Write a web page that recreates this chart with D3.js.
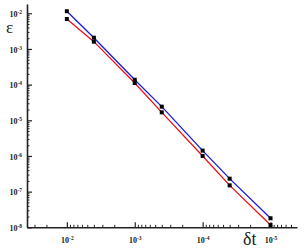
<!DOCTYPE html>
<html><head><meta charset="utf-8">
<script src="https://cdn.jsdelivr.net/npm/d3@7"></script>
<style>
html,body{margin:0;padding:0;background:#fff;}
svg{display:block;}
.axis path,.axis line{stroke:#222;}
.axis text{font-family:"Liberation Serif","Times New Roman",serif;font-weight:bold;fill:#222;}
</style></head><body>
<svg id="c" width="305" height="251"></svg>
<script>
const dt = [1e-2, 4e-3, 1e-3, 4e-4, 1e-4, 4e-5, 1e-5];
const errBlue = [1.14e-2, 2.07e-3, 1.37e-4, 2.41e-5, 1.41e-6, 2.31e-7, 1.79e-8];
const errRed  = [6.9e-3, 1.6e-3, 1.11e-4, 1.67e-5, 1.0e-6, 1.5e-7, 1.16e-8];
const xMajor = [1e-2, 1e-3, 1e-4, 1e-5];
const yMajor = [1e-2, 1e-3, 1e-4, 1e-5, 1e-6, 1e-7, 1e-8];
const xLabels = ["-2", "-3", "-4", "-5"];
const yLabels = ["-2", "-3", "-4", "-5", "-6", "-7", "-8"];

const svg = d3.select("#c");
const x = d3.scaleLog().domain([Math.pow(10, -1.413), Math.pow(10, -5.39)]).range([27, 297]);
const y = d3.scaleLog().domain([1e-8, Math.pow(10, -1.74)]).range([227.3, 4]);

function minors(lo, hi) {
  const out = [];
  for (let e = lo; e <= hi; e++) for (let m = 2; m <= 9; m++) {
    out.push(m * Math.pow(10, e));
  }
  return out;
}
const xMin = minors(-6, -2).filter(v => v <= x.domain()[0] && v >= x.domain()[1]);
const yMin = minors(-8, -2).filter(v => v >= y.domain()[0] && v <= y.domain()[1]);

// minor ticks
svg.append("g").attr("class", "axis").attr("transform", "translate(0,227.3)")
  .call(d3.axisBottom(x).tickValues(xMin).tickSize(-2.5).tickFormat(""))
  .call(g => g.select(".domain").remove());
svg.append("g").attr("class", "axis").attr("transform", "translate(27,0)")
  .call(d3.axisLeft(y).tickValues(yMin).tickSize(-2.5).tickFormat(""))
  .call(g => g.select(".domain").remove());

// major axes
const gx = svg.append("g").attr("class", "axis").attr("transform", "translate(0,227.3)")
  .call(d3.axisBottom(x).tickValues(xMajor).tickSize(-5).tickPadding(10).tickSizeOuter(0).tickFormat(""));
gx.select(".domain").attr("stroke-width", 1.6);
gx.selectAll(".tick line").attr("stroke-width", 1.2);
gx.selectAll(".tick text").each(function(d, i) {
  const t = d3.select(this).attr("font-size", 8).attr("dy", "0.71em");
  t.append("tspan").text("10");
  t.append("tspan").attr("font-size", 5.5).attr("dy", "-3").text(xLabels[i]);
});

const gy = svg.append("g").attr("class", "axis").attr("transform", "translate(27,0)")
  .call(d3.axisLeft(y).tickValues(yMajor).tickSize(-5).tickPadding(5).tickSizeOuter(0).tickFormat(""));
gy.select(".domain").attr("stroke-width", 1.6);
gy.selectAll(".tick line").attr("stroke-width", 1.2);
gy.selectAll(".tick text").each(function(d, i) {
  const t = d3.select(this).attr("font-size", 8).attr("dy", "0.4em");
  t.append("tspan").text("10");
  t.append("tspan").attr("font-size", 5.5).attr("dy", "-3").text(yLabels[i]);
});

// axis titles
svg.append("text").attr("x", 6).attr("y", 33).attr("font-family", "'Liberation Serif','Times New Roman',serif")
  .attr("font-size", 17).attr("fill", "#222").text("ε");
svg.append("text").attr("x", 243).attr("y", 245).attr("font-family", "'Liberation Serif','Times New Roman',serif")
  .attr("font-size", 18).attr("fill", "#222").text("δt");

// series
const line = d3.line().x(d => x(d[0])).y(d => y(d[1]));
const series = [
  {vals: errRed, color: "#ee1111"},
  {vals: errBlue, color: "#1a1ad6"}
];
series.forEach(s => {
  const pts = dt.map((d, i) => [d, s.vals[i]]);
  svg.append("path").datum(pts).attr("d", line).attr("fill", "none")
    .attr("stroke", s.color).attr("stroke-width", 1.3);
});
series.forEach(s => {
  const pts = dt.map((d, i) => [d, s.vals[i]]);
  svg.selectAll(null).data(pts).enter().append("rect")
    .attr("x", d => x(d[0]) - 2).attr("y", d => y(d[1]) - 2)
    .attr("width", 4).attr("height", 4).attr("fill", "#000");
});
</script>
</body></html>
